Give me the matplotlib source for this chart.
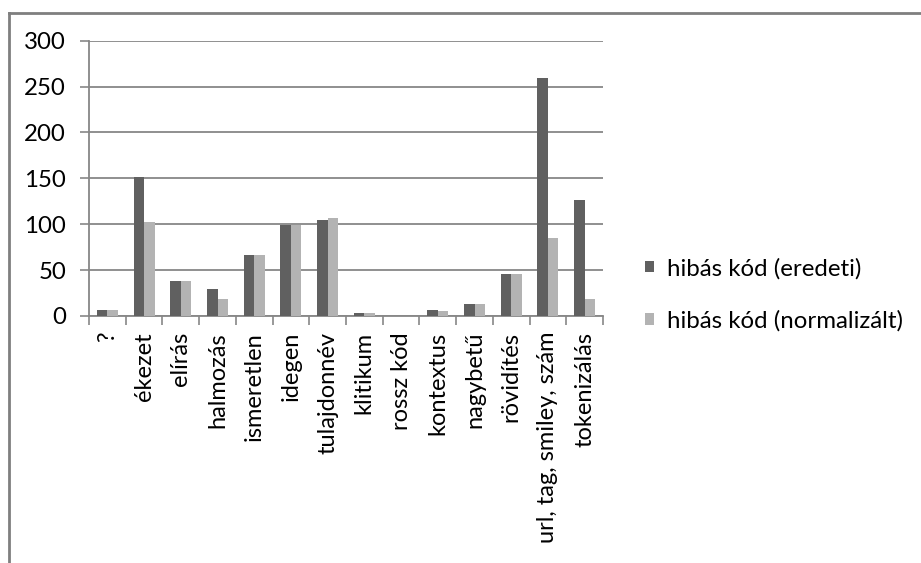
import matplotlib
matplotlib.use("Agg")
import matplotlib.pyplot as plt
from matplotlib.patches import Patch
from matplotlib.lines import Line2D
import numpy as np

plt.rcParams['font.family'] = ['Lato', 'DejaVu Sans']

categories = ["?", "ékezet", "elírás", "halmozás", "ismeretlen", "idegen", "tulajdonnév",
              "klitikum", "rossz kód", "kontextus", "nagybetű", "rövidítés",
              "url, tag, smiley, szám", "tokenizálás"]
eredeti = [7, 152, 38, 29, 66, 99, 105, 3, 0, 7, 13, 46, 259, 126]
normalizalt = [7, 102, 38, 18, 66, 99, 107, 3, 0, 5, 13, 46, 85, 18]
series_names = ["hibás kód (eredeti)", "hibás kód (normalizált)"]
yticks = [0, 50, 100, 150, 200, 250, 300]

W, H = 921, 563
fig = plt.figure(figsize=(W / 100, H / 100), dpi=100)
ax = fig.add_axes([89 / W, 1 - 316 / H, (603 - 89) / W, (316 - 40.7) / H])

dark = "#606060"
light = "#b3b3b3"
grid = "#878787"
fs_x = 17
fs_h = 17.3

x = np.arange(len(categories))
bw = 1 / 3.5
ax.bar(x - bw / 2, eredeti, width=bw, color=dark, zorder=3)
ax.bar(x + bw / 2, normalizalt, width=bw, color=light, zorder=3)

ax.set_xlim(-0.5, len(categories) - 0.5)
ax.set_ylim(0, 300)
ax.set_yticks(yticks)
ax.set_yticklabels([str(v) for v in yticks], fontsize=fs_h)
ax.yaxis.grid(True, color=grid, linewidth=1.3, zorder=0)
ax.set_axisbelow(True)

ax.set_xticks(np.arange(len(categories) + 1) - 0.5, minor=False)
ax.set_xticklabels([])
ax.set_xticks(x, minor=True)
ax.set_xticklabels(categories, minor=True, rotation=90, fontsize=fs_x, va='top', ha='center')
ax.tick_params(axis='x', which='major', length=6.5, width=1.2, color=grid, direction='out')
ax.tick_params(axis='x', which='minor', length=0, pad=11.5)
ax.tick_params(axis='y', length=6.5, width=1.2, color=grid, pad=10)

for s in ['top', 'right']:
    ax.spines[s].set_visible(False)
for s in ['left', 'bottom']:
    ax.spines[s].set_color(grid)
    ax.spines[s].set_linewidth(1.3)

handles = [Patch(facecolor=dark, edgecolor='none'), Patch(facecolor=light, edgecolor='none')]
fig.legend(handles, series_names, loc='center left', bbox_to_anchor=(645 / W, 1 - 294.5 / H),
           frameon=False, fontsize=fs_h, handlelength=0.37, handleheight=0.37,
           handletextpad=0.53, labelspacing=1.28, borderpad=0, borderaxespad=0)

# outer chart border (top and left visible)
fig.add_artist(Line2D([9 / W, 9 / W], [0, 1 - 13 / H], transform=fig.transFigure, color="#7f7f7f", linewidth=2))
fig.add_artist(Line2D([9 / W, 1], [1 - 13 / H, 1 - 13 / H], transform=fig.transFigure, color="#7f7f7f", linewidth=2))

fig.savefig("out.png", dpi=100)
